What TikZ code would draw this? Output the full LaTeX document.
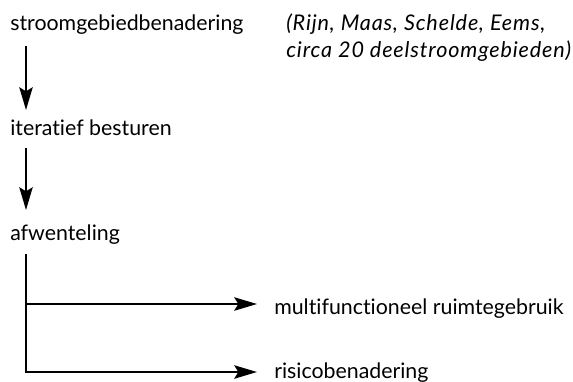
\documentclass[tikz,border=0pt]{standalone}
\usepackage{fontspec}
\setmainfont{Lato}[Ligatures=NoCommon,ItalicFeatures={LetterSpace=4}]
\usetikzlibrary{arrows.meta,calc}
\begin{document}
\begin{tikzpicture}[x=0.75pt,y=-0.75pt,
  lbl/.style={anchor=base west,inner sep=0pt,font=\fontsize{16pt}{20.25pt}\selectfont},
  note/.style={lbl,align=left,font=\fontsize{16.2pt}{20.25pt}\selectfont\itshape},
  link/.style={line width=1.8pt},
  arr/.style={line width=1.8pt,-{Stealth[length=17pt,width=10pt,inset=3pt]}}]
\useasboundingbox (0,0) rectangle (573,381);
% text nodes
\node[lbl] (n1) at (10,31) {stroomgebiedbenadering};
\node[note] (nt) at (286,58) {(Rijn, Maas, Schelde, Eems,\\circa 20 deelstroomgebieden)};
\node[lbl] (n2) at (10,135) {iteratief besturen};
\node[lbl] (n3) at (10,240) {afwenteling};
\node[lbl] (n4) at (274,314) {multifunctioneel ruimtegebruik};
\node[lbl] (n5) at (274,378) {risicobenadering};
% vertical arrows
\draw[arr] ($(n1.base west)+(16,15)$) -- ($(n2.base west)+(16,-25)$);
\draw[arr] ($(n2.base west)+(16,13)$) -- ($(n3.base west)+(16,-30)$);
% bracket with two branches
\coordinate (top) at ($(n3.base west)+(16,14)$);
\coordinate (j1) at ($(n4.base west)+(-248,-10)$);
\coordinate (j2) at ($(n5.base west)+(-248,-6)$);
\draw[link] (top) -- ($(j2)+(0,0.9)$);
\draw[arr] ($(j1)+(-0.9,0)$) -- ($(j1 -| n4.west)+(-17,0)$);
\draw[arr] ($(j2)+(-0.9,0)$) -- ($(j2 -| n5.west)+(-17,0)$);
\end{tikzpicture}
\end{document}
